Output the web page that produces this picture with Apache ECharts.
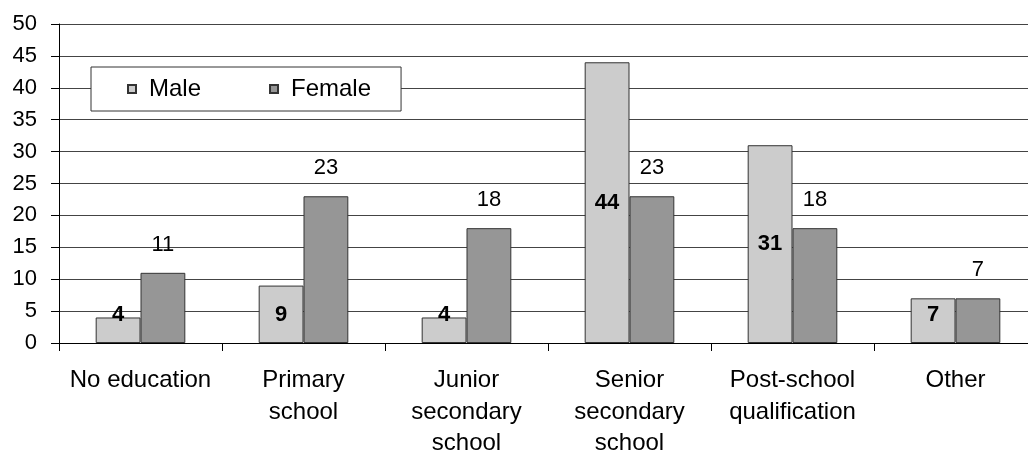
<!DOCTYPE html>
<html>
<head>
<meta charset="utf-8">
<style>
  html, body { margin: 0; padding: 0; background: #fff; }
  #chart { width: 1028px; height: 453px; }
</style>
<script src="https://cdn.jsdelivr.net/npm/echarts@6/dist/echarts.min.js"></script>
</head>
<body>
<div id="chart"></div>
<script>
// Highest level of education, by sex (%)
const categories = [
  'No education',
  'Primary\nschool',
  'Junior\nsecondary\nschool',
  'Senior\nsecondary\nschool',
  'Post-school\nqualification',
  'Other'
];
const maleValues = [4, 9, 4, 44, 31, 7];
const femaleValues = [11, 23, 18, 23, 18, 7];
const yTicks = { min: 0, max: 50, step: 5 };

const FONT = '"Liberation Sans", Arial, sans-serif';

// Short male bars keep their label near the bottom so it stays readable
const maleData = maleValues.map(v => (
  v < 10
    ? { value: v, label: { position: 'insideBottom', distance: 17 } }
    : { value: v }
));

const chart = echarts.init(document.getElementById('chart'), null, { renderer: 'canvas' });

chart.setOption({
  animation: false,
  backgroundColor: '#ffffff',
  textStyle: { fontFamily: FONT, color: '#000' },
  grid: {
    left: 59, top: 24, width: 978, height: 319,
    containLabel: false, outerBoundsMode: 'none'
  },
  legend: {
    left: 91,
    top: 67,
    orient: 'horizontal',
    icon: 'rect',
    itemWidth: 8,
    itemHeight: 8,
    itemGap: 68,
    padding: [10, 30, 10, 36],
    backgroundColor: '#ffffff',
    borderColor: '#333',
    borderWidth: 1,
    borderRadius: 0,
    textStyle: {
      fontFamily: FONT, fontSize: 24, color: '#000',
      lineHeight: 24, padding: [0, 0, 0, 8]
    },
    data: ['Male', 'Female']
  },
  xAxis: {
    type: 'category',
    data: categories,
    boundaryGap: true,
    axisLine: { lineStyle: { color: '#000', width: 1 } },
    axisTick: { show: true, alignWithLabel: false, length: 8, lineStyle: { color: '#000' } },
    axisLabel: {
      interval: 0, margin: 22, fontFamily: FONT, fontSize: 24,
      lineHeight: 31.5, color: '#000', align: 'center'
    },
    splitLine: { show: false }
  },
  yAxis: {
    type: 'value',
    min: yTicks.min,
    max: yTicks.max,
    interval: yTicks.step,
    axisLine: { show: true, lineStyle: { color: '#000', width: 1 } },
    axisTick: { show: true, length: 8, lineStyle: { color: '#000' } },
    axisLabel: { margin: 22, fontFamily: FONT, fontSize: 22, color: '#000' },
    splitLine: { show: true, lineStyle: { color: '#444', width: 1 } }
  },
  series: [
    {
      name: 'Male',
      type: 'bar',
      data: maleData,
      barGap: '0%',
      barCategoryGap: '45%',
      itemStyle: { color: '#cccccc', borderColor: '#333', borderWidth: 1 },
      label: {
        show: true,
        position: 'inside',
        fontFamily: FONT,
        fontSize: 22,
        fontWeight: 'bold',
        color: '#000'
      }
    },
    {
      name: 'Female',
      type: 'bar',
      data: femaleValues,
      barGap: '0%',
      barCategoryGap: '45%',
      itemStyle: { color: '#969696', borderColor: '#333', borderWidth: 1 },
      label: {
        show: true,
        position: 'top',
        distance: 17,
        fontFamily: FONT,
        fontSize: 22,
        color: '#000'
      }
    }
  ]
});
</script>
</body>
</html>
